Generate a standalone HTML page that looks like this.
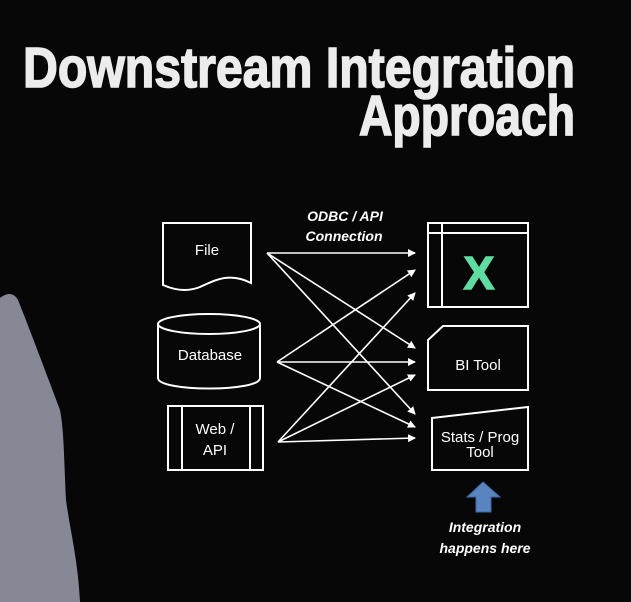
<!DOCTYPE html>
<html><head><style>
html,body{margin:0;padding:0;background:#070707;}
svg{display:block;}
</style></head><body>
<svg width="631" height="602" viewBox="0 0 631 602" xmlns="http://www.w3.org/2000/svg">
<rect width="631" height="602" fill="#070707"/>
<path d="M0,298 C8,292 14,293 18,300 C30,330 45,370 60,410 C64,430 64,460 66,500 C70,530 78,560 80,602 L0,602 Z" fill="#868995"/>
<g font-family="Liberation Sans, sans-serif" font-weight="bold" fill="#ececec" stroke="#ececec" stroke-width="1.6">
<text x="23" y="87" font-size="57" textLength="552" lengthAdjust="spacingAndGlyphs">Downstream Integration</text>
<text x="359" y="135" font-size="57" textLength="216" lengthAdjust="spacingAndGlyphs">Approach</text>
</g>
<defs><marker id="a" markerWidth="8" markerHeight="8" refX="7" refY="4" orient="auto" markerUnits="userSpaceOnUse"><path d="M0,0 L8,4 L0,8 Z" fill="#fff"/></marker></defs>
<g stroke="#fff" stroke-width="2" fill="none">
<path d="M163,223 H251 V283 C230,272 215,280 200,287 C185,293 172,289 163,285 Z"/>
<path d="M158,324 V378 C158,392 260,392 260,378 V324"/>
<ellipse cx="209" cy="324" rx="51" ry="10"/>
<rect x="168" y="406" width="95" height="64"/>
<line x1="182" y1="406" x2="182" y2="470"/><line x1="250" y1="406" x2="250" y2="470"/>
<rect x="428" y="223" width="100" height="84"/>
<line x1="428" y1="233" x2="528" y2="233"/><line x1="442" y1="223" x2="442" y2="307"/>
<path d="M443,326 H528 V390 H428 V340 Z"/>
<path d="M432,418 L528,407 V470 H432 Z"/>
</g>
<g stroke="#fff" stroke-width="1.6" marker-end="url(#a)">
<line x1="267" y1="253" x2="415" y2="253"/>
<line x1="267" y1="253" x2="415" y2="348"/>
<line x1="267" y1="253" x2="415" y2="414"/>
<line x1="277" y1="362" x2="415" y2="270"/>
<line x1="277" y1="362" x2="415" y2="362"/>
<line x1="277" y1="362" x2="415" y2="427"/>
<line x1="278" y1="442" x2="415" y2="293"/>
<line x1="278" y1="442" x2="415" y2="375"/>
<line x1="278" y1="442" x2="415" y2="438"/>
</g>
<g font-family="Liberation Sans, sans-serif" fill="#fff" font-size="15" text-anchor="middle">
<text x="207" y="255">File</text>
<text x="210" y="360">Database</text>
<text x="215" y="434">Web /</text>
<text x="215" y="455">API</text>
<text x="478" y="370">BI Tool</text>
<text x="480" y="442">Stats / Prog</text>
<text x="480" y="457">Tool</text>
</g>
<g font-family="Liberation Sans, sans-serif" fill="#fff" font-size="14" font-weight="bold" font-style="italic" text-anchor="middle">
<text x="345" y="221">ODBC / API</text>
<text x="344" y="241">Connection</text>
<text x="485" y="532">Integration</text>
<text x="485" y="553">happens here</text>
</g>
<text x="479" y="289" font-family="Liberation Sans, sans-serif" font-size="46" font-weight="bold" fill="#5fdca0" stroke="#5fdca0" stroke-width="1.5" text-anchor="middle">X</text>
<path d="M483,482 L500,497 H491 V512 H476 V497 H467 Z" fill="#5a84c0" stroke="#3f67a3" stroke-width="1"/>
</svg>
</body></html>
